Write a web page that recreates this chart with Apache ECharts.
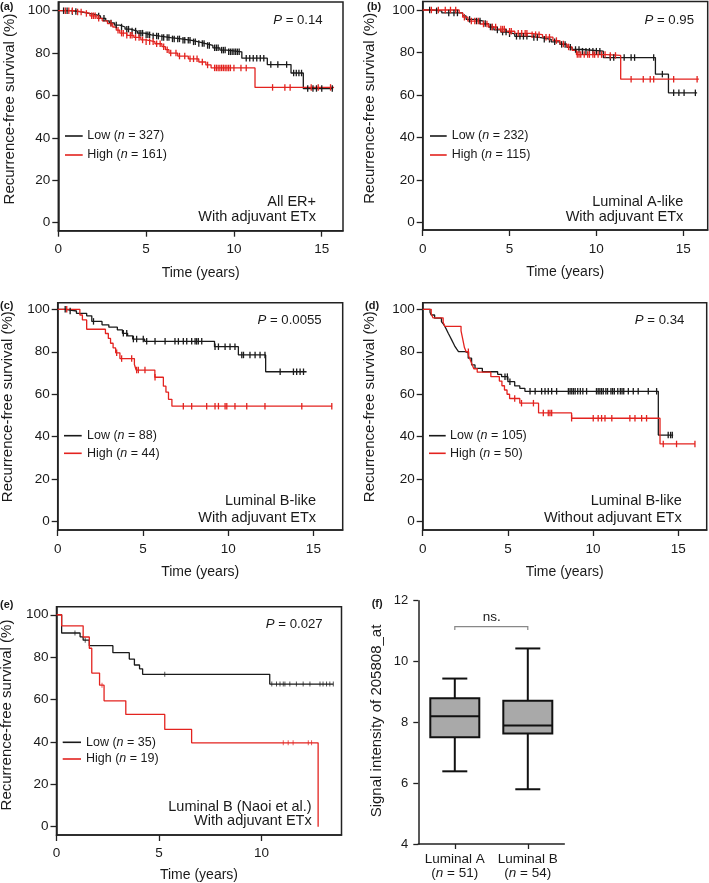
<!DOCTYPE html>
<html><head><meta charset="utf-8">
<script src="https://cdn.jsdelivr.net/npm/echarts@6/dist/echarts.min.js"></script>
<style>html,body{margin:0;padding:0;background:#fff}#c{width:709px;height:883px}</style>
</head><body><div id="c"></div>
<script>
// ---------------- DATA ----------------
// Kaplan-Meier step points [time (years), survival (%)] and censor times
const aLowSteps = [[0,100],[0.6,99.6],[1.2,99.0],[1.6,98.4],[2.0,97.5],[2.4,96.4],[2.7,95.2],[2.9,94.2],[3.2,93.2],[3.5,92.3],[3.8,91.3],[4.1,90.4],[4.5,89.4],[4.9,88.6],[5.3,88.0],[5.8,87.3],[6.4,86.7],[7.0,86.0],[7.6,85.3],[8.0,84.5],[8.4,83.6],[8.8,82.5],[9.2,81.4],[9.6,80.6],[10.45,77.6],[11.9,74.6],[13.25,70.6],[13.95,63.3],[15.65,63.3]];
const aHighSteps = [[0,100],[0.9,99.4],[1.4,98.7],[1.8,97.6],[2.2,96.4],[2.5,95.2],[2.8,93.9],[3.1,92.3],[3.3,90.8],[3.5,89.4],[3.9,88.4],[4.3,87.4],[4.7,86.2],[5.0,85.4],[5.5,84.4],[5.9,83.0],[6.1,81.6],[6.3,80.0],[6.8,78.6],[7.4,77.3],[8.0,75.8],[8.4,74.4],[8.7,73.0],[11.2,63.8],[15.7,63.8]];
const aLowCens = [0.3,0.5,0.8,1.0,2.3,2.6,3.0,3.3,3.6,3.9,4.0,4.2,4.4,4.6,4.7,4.8,5.0,5.1,5.2,5.4,5.6,5.7,5.9,6.0,6.2,6.3,6.5,6.6,6.8,6.9,7.1,7.2,7.4,7.5,7.7,7.8,8.0,8.2,8.3,8.5,8.6,8.9,9.0,9.1,9.3,9.4,9.5,9.7,9.8,9.9,10.0,10.1,10.2,10.3,10.7,10.9,11.1,11.3,11.5,11.7,12.1,12.5,13.0,13.4,13.55,13.7,13.85,14.2,14.5,14.7,15.0,15.6];
const aHighCens = [0.4,0.6,0.8,1.1,1.3,1.6,1.9,2.0,2.1,2.3,3.0,3.4,3.6,3.7,3.9,4.1,4.2,4.4,4.6,4.8,5.0,5.2,5.4,5.6,5.8,6.0,6.2,6.4,6.7,6.9,7.2,7.5,7.7,7.9,8.2,8.5,8.9,9.0,9.1,9.2,9.3,9.4,9.5,9.6,9.7,9.8,10.0,10.4,10.7,12.2,12.9,13.2,14.4,14.8,15.5];

const bLowSteps = [[0,100],[0.5,99.6],[1.1,98.6],[2.3,97.2],[2.5,95.6],[3.0,94.8],[3.5,93.6],[3.8,92.0],[4.1,90.6],[4.5,89.6],[4.9,88.8],[5.3,87.6],[6.2,87.0],[6.8,86.2],[7.4,85.0],[7.9,83.8],[8.3,82.4],[8.6,81.4],[9.2,80.6],[10.4,77.6],[13.4,69.8],[14.15,61.0],[15.8,61.0]];
const bHighSteps = [[0,100],[2.1,98.6],[2.3,96.6],[2.6,94.8],[3.3,93.4],[3.8,92.0],[4.3,91.0],[4.8,90.0],[5.3,89.0],[6.2,88.4],[6.9,87.2],[7.5,85.6],[7.9,84.0],[8.3,82.6],[8.6,81.0],[8.85,79.0],[10.6,78.6],[11.4,67.4],[15.9,67.4]];
const bLowCens = [0.4,0.8,1.5,1.8,2.0,2.7,3.1,3.3,3.6,3.9,4.0,4.3,4.6,4.8,5.0,5.4,5.6,5.8,6.0,6.4,6.6,7.0,7.3,7.6,8.0,8.2,8.5,8.8,9.0,9.2,9.4,9.6,9.8,10.0,10.2,10.8,11.0,11.6,12.0,12.2,13.3,13.8,14.45,14.75,15.05,15.7];
const bHighCens = [0.5,0.9,1.3,1.6,1.9,2.4,2.8,3.0,3.2,3.5,3.7,4.0,4.2,4.5,4.6,4.7,5.0,5.1,5.5,5.7,5.9,6.0,6.3,6.5,6.7,7.1,7.3,7.7,8.1,8.4,8.9,9.0,9.1,9.3,9.5,9.6,9.8,9.9,10.1,10.3,10.5,10.8,11.1,12.0,12.7,13.1,13.3,14.45,15.8];

const cLowSteps = [[0,100],[0.45,99.2],[1.1,98.1],[1.7,96.9],[2.0,94.3],[2.6,92.7],[3.0,91.6],[3.5,90.3],[3.8,88.7],[4.1,87.5],[4.4,86.0],[5.1,84.9],[9.2,82.4],[10.6,78.5],[12.2,70.6],[14.6,70.6]];
const cHighSteps = [[0,100],[1.3,97.3],[1.45,95.0],[1.7,90.6],[2.8,88.6],[2.97,86.3],[3.1,84.0],[3.25,81.8],[3.4,79.5],[3.65,76.8],[4.5,74.0],[4.6,71.4],[5.7,68.0],[6.2,63.8],[6.35,61.0],[6.5,57.6],[6.7,54.4],[16.1,54.4]];
const cLowCens = [0.44,0.73,2.1,3.85,4.05,4.44,4.63,5.02,5.22,5.71,6.3,6.88,7.08,7.37,7.57,7.86,8.06,8.15,8.25,8.45,9.23,9.43,9.82,10.11,10.4,10.8,10.9,11.28,11.58,11.87,12.16,13.05,13.83,14.02,14.22,14.42];
const cHighCens = [0.53,3.46,3.75,4.34,4.63,4.73,5.12,5.71,7.37,7.86,8.74,9.23,9.43,9.82,9.92,10.4,11.09,12.16,14.32,16.08];

const dLowSteps = [[0,100],[0.43,98.6],[0.5,97.3],[0.7,95.8],[1.1,94.2],[1.2,93.2],[1.3,91.9],[1.4,90.4],[1.5,88.7],[1.6,87.2],[1.7,85.6],[1.8,84.0],[1.9,82.4],[2.0,81.2],[2.1,80.1],[2.5,79.4],[2.67,77.0],[2.87,73.8],[3.07,72.2],[3.5,70.6],[4.4,69.4],[4.63,68.3],[5.0,65.9],[5.4,63.9],[5.7,62.8],[6.0,61.4],[13.83,40.8],[14.7,40.8]];
const dHighSteps = [[0,100],[0.5,97.9],[0.6,96.0],[1.2,93.9],[1.3,92.0],[2.25,89.8],[2.35,86.0],[2.45,82.0],[2.55,80.0],[2.7,78.0],[2.8,76.0],[2.9,74.0],[3.0,72.0],[3.2,70.4],[4.0,68.3],[4.5,66.2],[4.65,64.0],[4.8,62.0],[4.95,60.0],[5.1,58.0],[5.7,55.8],[6.8,51.2],[8.74,48.7],[13.93,36.6],[15.98,36.6]];
const dLowCens = [4.83,4.97,5.12,6.3,6.6,6.98,7.18,7.37,7.57,7.86,8.55,8.65,8.75,8.85,8.95,9.1,9.25,9.4,9.62,10.2,10.3,10.4,10.5,10.6,10.75,10.85,11.05,11.15,11.25,11.45,11.6,11.7,11.8,12.07,12.36,12.65,13.24,13.73,14.41,14.55,14.65];
const dHighCens = [2.68,5.4,5.8,6.5,7.08,7.37,7.47,7.57,8.74,10.01,10.3,10.5,10.7,11.1,12.16,12.46,12.85,13.14,14.12,14.9,15.98];

const eLowSteps = [[0,100],[0.25,91.4],[1.15,89.6],[1.3,88.0],[1.6,85.4],[2.75,82.1],[3.55,79.1],[3.8,76.3],[4.05,74.5],[4.2,71.9],[10.4,67.3],[13.5,67.3]];
const eHighSteps = [[0,100],[0.25,94.8],[1.3,89.5],[1.6,84.2],[1.72,72.5],[2.1,66.8],[2.32,59.4],[3.38,53.0],[5.28,45.9],[6.59,39.6],[12.76,0]];
const eLowCens = [0.9,1.4,5.28,10.5,10.73,10.9,11.06,11.14,11.38,11.7,12.03,12.36,12.85,13.0,13.17,13.33,13.5];
const eHighCens = [2.22,11.06,11.3,11.54,12.28,12.44];

const pValues = ['0.14','0.95','0.0055','0.34','0.027'];
const nLow = [327,232,88,105,35];
const nHigh = [161,115,44,50,19];
const cohortLines = [['All ER+','With adjuvant ETx'],['Luminal A-like','With adjuvant ETx'],['Luminal B-like','With adjuvant ETx'],['Luminal B-like','Without adjuvant ETx'],['Luminal B (Naoi et al.)','With adjuvant ETx']];
const panelLetters = ['(a)','(b)','(c)','(d)','(e)','(f)'];
const kmXTicks = [[0,5,10,15],[0,5,10,15],[0,5,10,15],[0,5,10,15],[0,5,10]];
const kmYTicks = [0,20,40,60,80,100];

// Box plot (f): [category index, min, Q1, median, Q3, max]
const boxCategories = ['Luminal A','Luminal B'];
const boxN = [51,54];
const boxStats = [[0,6.39,7.51,8.20,8.79,9.44],[1,5.80,7.63,7.90,8.71,10.43]];
const boxYTicks = [4,6,8,10,12];
const nsBracket = [[0,1,11.15]];

// ---------------- LAYOUT / STYLE ----------------
const FONT = '"Liberation Sans", Arial, Helvetica, sans-serif';
const INK = '#1a1a1a', RED = '#e3231f';
const kmData = [
  [aLowSteps,aHighSteps,aLowCens,aHighCens],
  [bLowSteps,bHighSteps,bLowCens,bHighCens],
  [cLowSteps,cHighSteps,cLowCens,cHighCens],
  [dLowSteps,dHighSteps,dLowCens,dHighCens],
  [eLowSteps,eHighSteps,eLowCens,eHighCens]
];
const kmLayout = [
  {grid:{left:58.3,top:2,width:284.7,height:228.7}, xMax:16.21, yMin:-3.8, yMax:104.1, xm:12, ng:35,
   lab:[0,7], yt:[10,109], p:[322.7,20], notes:[316,201.7,217.3], leg:[65,82.7,87.3,136,155]},
  {grid:{left:422.7,top:1.5,width:285,height:228.5}, xMax:16.41, yMin:-3.6, yMax:104.0, xm:12, ng:35,
   lab:[367,7], yt:[370,108.3], p:[694,20], notes:[683.3,201.7,217.3], leg:[430,446.7,451.7,136,155]},
  {grid:{left:57.7,top:302.7,width:285,height:227.3}, xMax:16.72, yMin:-3.9, yMax:103.1, xm:12, ng:35,
   lab:[0,306.3], yt:[8.3,406.7], p:[321.7,320.7], notes:[316,501,517.7], leg:[64,81.7,87,435.7,453.3]},
  {grid:{left:422.7,top:302.7,width:284,height:227.3}, xMax:16.67, yMin:-3.9, yMax:103.1, xm:12, ng:35,
   lab:[365,306.3], yt:[370,406.7], p:[684.3,320.7], notes:[681.7,501,517.7], leg:[429,445.7,450,435.7,453.3]},
  {grid:{left:56.5,top:606.7,width:285,height:228.3}, xMax:13.9, yMin:-3.9, yMax:103.8, xm:11, ng:33,
   lab:[0,604.5], yt:[7.3,715], p:[322.7,624.3], notes:[311.7,806.7,820.7], leg:[62.7,81,86,742.3,759]}
];
const boxLayout = {grid:{left:418.3,top:600.7,width:146,height:243.3}, lab:[371.7,604], yt:[376.7,721], ns:[491.7,617.3]};

function survAt(steps, t){
  let s = 100;
  for (const [ti, si] of steps){ if (ti <= t + 1e-9) s = si; else break; }
  return s;
}

const grids = [], xAxes = [], yAxes = [], series = [], graphics = [];
const txt = (x,y,text,size,align,vAlign,extra) => Object.assign({type:'text', x, y, silent:true,
  style:{text, fontSize:size, fontFamily:FONT, fill:INK, align, verticalAlign:vAlign,
    rich:{i:{fontStyle:'italic', fontSize:size, fontFamily:FONT, fill:INK}}}}, extra||{});
const boldLabel = (x,y,text) => ({type:'text', x, y, silent:true,
  style:{text, fontSize:11, fontWeight:'bold', fontFamily:FONT, fill:INK, align:'left', verticalAlign:'middle'}});

kmData.forEach((d, i) => {
  const L = kmLayout[i];
  grids.push(Object.assign({show:true, borderColor:'#222', borderWidth:1.5, backgroundColor:'transparent', containLabel:false}, L.grid));
  xAxes.push({type:'value', gridIndex:i, min:0, max:L.xMax,
    axisLine:{show:true, onZero:false, lineStyle:{color:'#222', width:1.5}},
    axisTick:{show:true, inside:false, length:6, customValues:kmXTicks[i], lineStyle:{color:'#222', width:1.3}},
    axisLabel:{customValues:kmXTicks[i], margin:L.xm, fontSize:13.5, fontFamily:FONT, color:INK},
    splitLine:{show:false},
    name:'Time (years)', nameLocation:'middle', nameGap:L.ng,
    nameTextStyle:{fontSize:14, fontFamily:FONT, color:INK}});
  yAxes.push({type:'value', gridIndex:i, min:L.yMin, max:L.yMax,
    axisLine:{show:true, onZero:false, lineStyle:{color:'#222', width:1.5}},
    axisTick:{show:true, inside:false, length:6, customValues:kmYTicks, lineStyle:{color:'#222', width:1.3}},
    axisLabel:{customValues:kmYTicks, margin:8, fontSize:13.5, fontFamily:FONT, color:INK},
    splitLine:{show:false}});
  const [low, high, lowC, highC] = d;
  const lw = 1.3;
  const cs = i === 4 ? [1, 5] : [1.3, 6.5];
  [[low, lowC, INK], [high, highC, RED]].forEach(([steps, cens, col]) => {
    series.push({type:'line', xAxisIndex:i, yAxisIndex:i, step:'end', data:steps, showSymbol:false,
      symbol:'none', lineStyle:{color:col, width:lw}, itemStyle:{color:col}, silent:true, z:2});
    series.push({type:'scatter', xAxisIndex:i, yAxisIndex:i, symbol:'rect', symbolSize:cs,
      data:cens.map(t => [t, survAt(steps, t)]), itemStyle:{color:col, opacity: i===4?0.75:1}, silent:true, z:3});
  });
  graphics.push(boldLabel(L.lab[0], L.lab[1], panelLetters[i]));
  graphics.push(txt(L.yt[0], L.yt[1], 'Recurrence-free survival (%)', 15, 'center', 'middle', {rotation:Math.PI/2}));
  graphics.push(txt(L.p[0], L.p[1], '{i|P} = ' + pValues[i], 13.2, 'right', 'middle'));
  graphics.push(txt(L.notes[0], L.notes[1], cohortLines[i][0], 14.5, 'right', 'middle'));
  graphics.push(txt(L.notes[0], L.notes[2], cohortLines[i][1], 14.5, 'right', 'middle'));
  const lg = L.leg;
  [[INK, 'Low ({i|n} = ' + nLow[i] + ')', lg[3]], [RED, 'High ({i|n} = ' + nHigh[i] + ')', lg[4]]].forEach(([col, t, y]) => {
    graphics.push({type:'line', silent:true, shape:{x1:lg[0], y1:y, x2:lg[1], y2:y}, style:{stroke:col, lineWidth:1.6}});
    graphics.push(txt(lg[2], y, t, 12.5, 'left', 'middle'));
  });
});

// Panel (f): box plot
grids.push(Object.assign({show:false}, boxLayout.grid));
xAxes.push({type:'category', gridIndex:5, data:boxCategories,
  axisLine:{show:true, onZero:false, lineStyle:{color:'#222', width:1.5}},
  axisTick:{show:true, alignWithLabel:true, interval:0, length:5, lineStyle:{color:'#222', width:1.3}},
  axisLabel:{interval:0, hideOverlap:false, margin:8, fontSize:13.5, fontFamily:FONT, color:INK, lineHeight:14,
    formatter:(v, idx) => v + '\n({i|n} = ' + boxN[idx] + ')',
    rich:{i:{fontStyle:'italic', fontSize:13.5, fontFamily:FONT, color:INK, lineHeight:14}}},
  splitLine:{show:false}});
yAxes.push({type:'value', gridIndex:5, min:4, max:12, interval:2,
  axisLine:{show:true, onZero:false, lineStyle:{color:'#222', width:1.5}},
  axisTick:{show:true, length:5, lineStyle:{color:'#222', width:1.3}},
  axisLabel:{margin:10, fontSize:13, fontFamily:FONT, color:INK},
  splitLine:{show:false}});
series.push({type:'custom', xAxisIndex:5, yAxisIndex:5, data:boxStats, silent:true,
  encode:{x:0, y:[1,2,3,4,5]},
  renderItem:(params, api) => {
    const c = api.value(0);
    const x = api.coord([c, 8])[0];
    const Y = k => api.coord([c, api.value(k)])[1];
    const bw = 49, cw = 25;
    const st = {stroke:'#111', lineWidth:2};
    const ln = (x1,y1,x2,y2) => ({type:'line', shape:{x1,y1,x2,y2}, style:st});
    return {type:'group', children:[
      ln(x, Y(5), x, Y(4)), ln(x, Y(2), x, Y(1)),
      ln(x-cw/2, Y(5), x+cw/2, Y(5)), ln(x-cw/2, Y(1), x+cw/2, Y(1)),
      {type:'rect', shape:{x:x-bw/2, y:Y(4), width:bw, height:Y(2)-Y(4)}, style:{fill:'#a9a9a9', stroke:'#111', lineWidth:2}},
      ln(x-bw/2, Y(3), x+bw/2, Y(3))
    ]};
  }});
series.push({type:'custom', xAxisIndex:5, yAxisIndex:5, data:nsBracket, silent:true,
  encode:{x:[0,1], y:2},
  renderItem:(params, api) => {
    const p0 = api.coord([api.value(0), api.value(2)]);
    const p1 = api.coord([api.value(1), api.value(2)]);
    const st = {stroke:'#888', lineWidth:1.2, fill:null};
    return {type:'polyline', shape:{points:[[p0[0], p0[1]+3.5],[p0[0], p0[1]],[p1[0], p1[1]],[p1[0], p1[1]+3.5]]}, style:st};
  }});
graphics.push(boldLabel(boxLayout.lab[0], boxLayout.lab[1], panelLetters[5]));
graphics.push(txt(boxLayout.yt[0], boxLayout.yt[1], 'Signal intensity of 205808_at', 15, 'center', 'middle', {rotation:Math.PI/2}));
graphics.push(txt(boxLayout.ns[0], boxLayout.ns[1], 'ns.', 13.5, 'center', 'middle'));

const chart = echarts.init(document.getElementById('c'), null, {renderer:'canvas'});
chart.setOption({animation:false, backgroundColor:'#fff', grid:grids, xAxis:xAxes, yAxis:yAxes, series, graphic:graphics});
</script></body></html>
